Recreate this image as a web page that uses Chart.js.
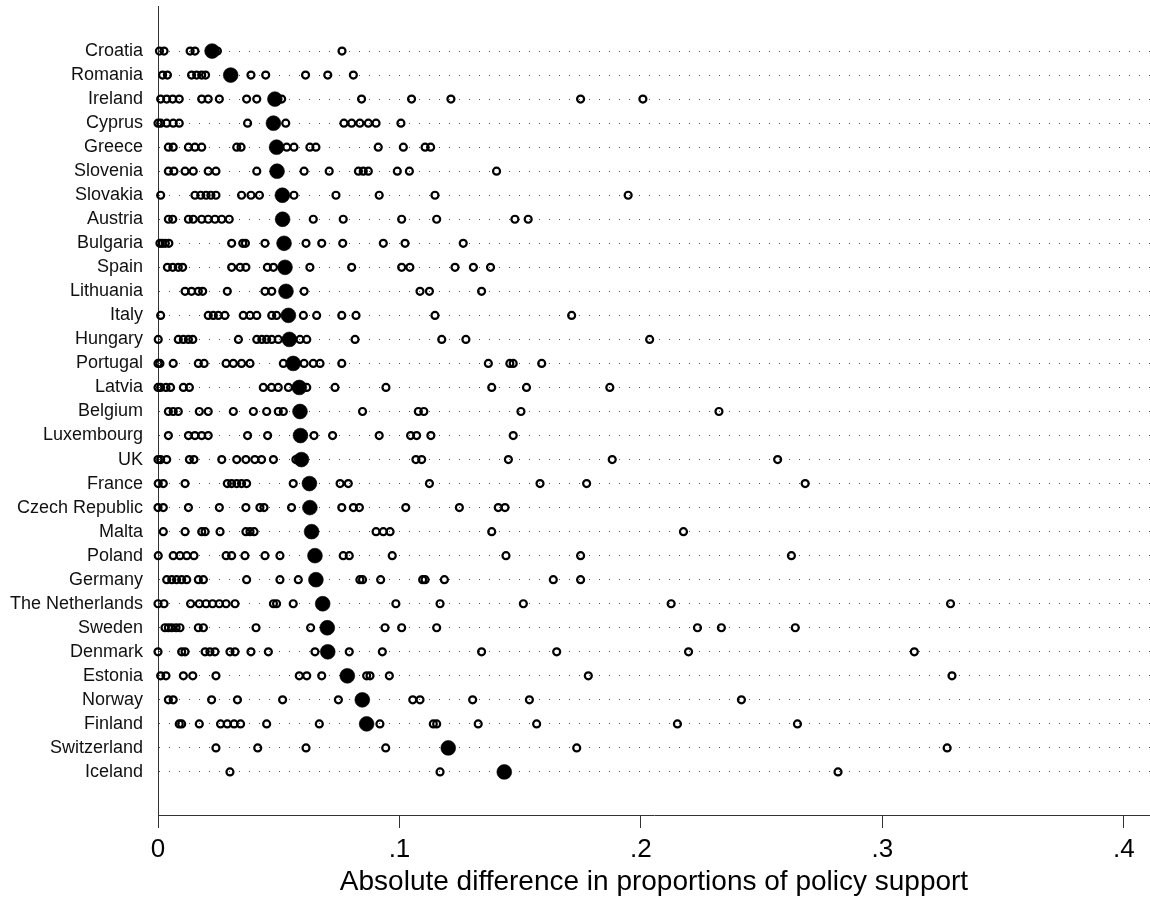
<!DOCTYPE html>
<html>
<head>
<meta charset="utf-8">
<script src="https://cdn.jsdelivr.net/npm/chart.js@4.4.1/dist/chart.umd.min.js"></script>
<style>
  html, body { margin: 0; padding: 0; background: #ffffff; }
  #wrap { width: 1150px; height: 907px; position: relative; }
</style>
</head>
<body>
<div id="wrap"><canvas id="c" width="1150" height="907"></canvas></div>
<script>
// ---- data ----
const countries = ["Croatia","Romania","Ireland","Cyprus","Greece","Slovenia","Slovakia","Austria","Bulgaria","Spain","Lithuania","Italy","Hungary","Portugal","Latvia","Belgium","Luxembourg","UK","France","Czech Republic","Malta","Poland","Germany","The Netherlands","Sweden","Denmark","Estonia","Norway","Finland","Switzerland","Iceland"];

const meanDiff = [0.0224,0.0301,0.0484,0.0478,0.0491,0.0493,0.0515,0.0516,0.0522,0.0526,0.0530,0.0540,0.0544,0.0560,0.0585,0.0588,0.0590,0.0594,0.0627,0.0629,0.0636,0.0650,0.0654,0.0682,0.0701,0.0703,0.0784,0.0846,0.0864,0.1202,0.1434];

const itemDiffs = [
  [0.0006,0.0025,0.0133,0.0153,0.0246,0.0762],
  [0.0019,0.0039,0.0139,0.0160,0.0181,0.0197,0.0385,0.0446,0.0611,0.0703,0.0809],
  [0.0011,0.0036,0.0061,0.0088,0.0181,0.0208,0.0254,0.0367,0.0409,0.0512,0.0843,0.1050,0.1213,0.1750,0.2008],
  [0.0000,0.0011,0.0036,0.0063,0.0088,0.0371,0.0529,0.0770,0.0802,0.0836,0.0871,0.0903,0.1006],
  [0.0043,0.0063,0.0126,0.0153,0.0181,0.0326,0.0344,0.0533,0.0563,0.0629,0.0654,0.0912,0.1016,0.1106,0.1129],
  [0.0043,0.0066,0.0112,0.0146,0.0208,0.0240,0.0409,0.0605,0.0709,0.0830,0.0850,0.0871,0.0991,0.1041,0.1402],
  [0.0011,0.0153,0.0177,0.0199,0.0219,0.0240,0.0346,0.0385,0.0420,0.0563,0.0737,0.0916,0.1147,0.1947],
  [0.0043,0.0061,0.0126,0.0146,0.0181,0.0208,0.0236,0.0264,0.0295,0.0643,0.0767,0.1009,0.1154,0.1478,0.1533],
  [0.0008,0.0018,0.0030,0.0045,0.0305,0.0351,0.0362,0.0443,0.0613,0.0678,0.0765,0.0933,0.1023,0.1264],
  [0.0039,0.0061,0.0084,0.0102,0.0305,0.0340,0.0364,0.0453,0.0478,0.0629,0.0802,0.1009,0.1043,0.1230,0.1306,0.1377],
  [0.0112,0.0139,0.0167,0.0185,0.0287,0.0443,0.0471,0.0605,0.1085,0.1124,0.1340],
  [0.0011,0.0208,0.0229,0.0250,0.0277,0.0353,0.0381,0.0409,0.0471,0.0491,0.0602,0.0657,0.0761,0.0820,0.1147,0.1713],
  [0.0001,0.0084,0.0105,0.0126,0.0144,0.0333,0.0409,0.0430,0.0450,0.0471,0.0498,0.0588,0.0616,0.0816,0.1175,0.1275,0.2036],
  [0.0000,0.0008,0.0063,0.0167,0.0191,0.0282,0.0312,0.0346,0.0381,0.0519,0.0605,0.0643,0.0671,0.0761,0.1368,0.1457,0.1471,0.1589],
  [0.0000,0.0011,0.0033,0.0052,0.0105,0.0130,0.0436,0.0470,0.0498,0.0540,0.0616,0.0733,0.0944,0.1382,0.1526,0.1871],
  [0.0043,0.0063,0.0084,0.0171,0.0208,0.0312,0.0395,0.0450,0.0498,0.0519,0.0847,0.1078,0.1101,0.1503,0.2323],
  [0.0043,0.0126,0.0153,0.0181,0.0208,0.0371,0.0454,0.0646,0.0723,0.0916,0.1046,0.1071,0.1130,0.1471],
  [0.0000,0.0011,0.0036,0.0130,0.0149,0.0264,0.0326,0.0364,0.0401,0.0429,0.0478,0.0571,0.1068,0.1092,0.1451,0.1881,0.2566],
  [0.0001,0.0022,0.0112,0.0287,0.0305,0.0326,0.0346,0.0367,0.0560,0.0754,0.0788,0.1124,0.1582,0.1775,0.2680],
  [0.0000,0.0022,0.0126,0.0254,0.0364,0.0422,0.0439,0.0553,0.0761,0.0809,0.0834,0.1026,0.1248,0.1409,0.1437],
  [0.0022,0.0112,0.0181,0.0195,0.0257,0.0364,0.0381,0.0398,0.0903,0.0933,0.0961,0.1382,0.2176],
  [0.0001,0.0063,0.0091,0.0119,0.0149,0.0282,0.0305,0.0360,0.0443,0.0505,0.0767,0.0792,0.0970,0.1441,0.1750,0.2623],
  [0.0036,0.0057,0.0077,0.0098,0.0119,0.0167,0.0188,0.0367,0.0505,0.0581,0.0836,0.0847,0.0922,0.1096,0.1106,0.1186,0.1637,0.1750],
  [0.0000,0.0025,0.0135,0.0171,0.0199,0.0226,0.0254,0.0282,0.0319,0.0478,0.0491,0.0560,0.0985,0.1168,0.1513,0.2125,0.3282],
  [0.0029,0.0043,0.0057,0.0075,0.0091,0.0167,0.0188,0.0406,0.0632,0.0940,0.1009,0.1154,0.2234,0.2333,0.2639],
  [0.0000,0.0098,0.0112,0.0195,0.0215,0.0236,0.0298,0.0319,0.0385,0.0457,0.0650,0.0792,0.0929,0.1340,0.1651,0.2197,0.3132],
  [0.0011,0.0033,0.0105,0.0144,0.0240,0.0585,0.0616,0.0678,0.0864,0.0878,0.0958,0.1782,0.3288],
  [0.0043,0.0063,0.0222,0.0329,0.0516,0.0747,0.1055,0.1085,0.1303,0.1538,0.2416],
  [0.0088,0.0098,0.0171,0.0259,0.0287,0.0315,0.0342,0.0450,0.0668,0.0919,0.1140,0.1154,0.1326,0.1568,0.2151,0.2648],
  [0.0240,0.0413,0.0613,0.0943,0.1734,0.3268],
  [0.0298,0.1168,0.2816]
];

const xTickValues = [0, 0.1, 0.2, 0.3, 0.4];
const xTickLabels = ["0", ".1", ".2", ".3", ".4"];
const xAxisTitle = "Absolute difference in proportions of policy support";

// ---- build datasets ----
const hollowPts = [];
itemDiffs.forEach((arr, i) => arr.forEach(v => hollowPts.push({x: v, y: i})));
const meanPts = meanDiff.map((v, i) => ({x: v, y: i}));

const FONT = "'Liberation Sans', Arial, Helvetica, sans-serif";

new Chart(document.getElementById('c'), {
  type: 'scatter',
  data: {
    datasets: [
      {
        label: 'mean',
        data: meanPts,
        pointStyle: 'circle',
        pointRadius: 7.4,
        pointBorderWidth: 0.6,
        pointBackgroundColor: '#000',
        pointBorderColor: '#000',
        clip: false
      },
      {
        label: 'items',
        data: hollowPts,
        pointStyle: 'circle',
        pointRadius: 3.5,
        pointBorderWidth: 2.2,
        pointBackgroundColor: 'rgba(0,0,0,0)',
        pointBorderColor: '#000',
        clip: false
      }
    ]
  },
  options: {
    responsive: false,
    animation: false,
    events: [],
    layout: { autoPadding: false, padding: { top: 6, right: 0, bottom: 0, left: 0 } },
    plugins: { legend: { display: false }, tooltip: { enabled: false } },
    scales: {
      x: {
        type: 'linear',
        position: 'bottom',
        min: 0,
        max: 0.4108,
        afterBuildTicks: (s) => { s.ticks = xTickValues.map(v => ({value: v})); },
        afterFit: (s) => { s.height = 92; s.paddingLeft = 0; s.paddingRight = 0; },
        ticks: {
          autoSkip: false,
          maxRotation: 0,
          padding: 6,
          color: '#000',
          font: { family: FONT, size: 26 },
          callback: (v) => xTickLabels[xTickValues.indexOf(v)] ?? ''
        },
        grid: {
          display: true,
          drawOnChartArea: false,
          drawTicks: true,
          tickLength: 13,
          color: '#333',
          lineWidth: 1
        },
        border: { display: true, color: '#333', width: 1 },
        title: {
          display: true,
          text: xAxisTitle,
          color: '#000',
          font: { family: FONT, size: 28 },
          padding: { top: 0, bottom: 8 }
        }
      },
      y: {
        type: 'linear',
        reverse: true,
        min: -1.875,
        max: 31.792,
        afterBuildTicks: (s) => { s.ticks = countries.map((_, i) => ({value: i})); },
        afterFit: (s) => { s.width = 158; s.paddingTop = 0; s.paddingBottom = 0; },
        ticks: {
          autoSkip: false,
          padding: 15,
          color: '#111',
          font: { family: FONT, size: 18 },
          callback: (v) => countries[v] ?? ''
        },
        grid: {
          display: true,
          drawOnChartArea: true,
          drawTicks: false,
          color: '#4a4a4a',
          lineWidth: 1
        },
        border: { display: true, color: '#333', width: 1, dash: [1, 9] },
      }
    }
  },
  plugins: [{
    id: 'bg',
    beforeDraw(chart) {
      const ctx = chart.ctx;
      ctx.save();
      ctx.fillStyle = '#fff';
      ctx.fillRect(0, 0, chart.width, chart.height);
      ctx.restore();
    }
  }]
});
</script>
</body>
</html>
